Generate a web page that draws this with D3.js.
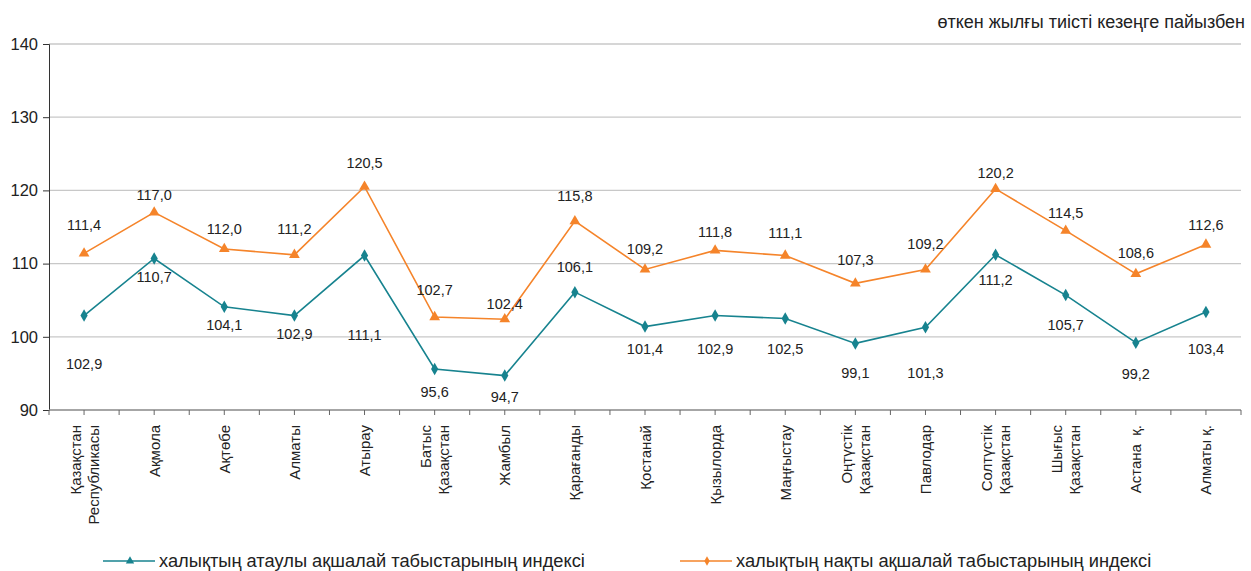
<!DOCTYPE html>
<html><head><meta charset="utf-8">
<script src="https://cdn.jsdelivr.net/npm/d3@7"></script>
<style>body{margin:0;background:#fff;} text{font-family:"Liberation Sans",Arial,sans-serif;fill:#222;}</style>
</head><body><svg id="c" width="1251" height="571"></svg>
<script>
const categories = [
  ["Қазақстан","Республикасы"],["Ақмола"],["Ақтөбе"],["Алматы"],["Атырау"],
  ["Батыс","Қазақстан"],["Жамбыл"],["Қарағанды"],["Қостанай"],["Қызылорда"],
  ["Маңғыстау"],["Оңтүстік","Қазақстан"],["Павлодар"],["Солтүстік","Қазақстан"],
  ["Шығыс","Қазақстан"],["Астана  қ."],["Алматы қ."]
];
const nominalIndex = [102.9,110.7,104.1,102.9,111.1,95.6,94.7,106.1,101.4,102.9,102.5,99.1,101.3,111.2,105.7,99.2,103.4];
const realIndex    = [111.4,117.0,112.0,111.2,120.5,102.7,102.4,115.8,109.2,111.8,111.1,107.3,109.2,120.2,114.5,108.6,112.6];
const yTicks = [90,100,110,120,130,140];
const seriesNames = ["халықтың атаулы ақшалай табыстарының индексі","халықтың нақты ақшалай табыстарының индексі"];
const unitNote = "өткен жылғы тиісті кезеңге пайызбен";
// label vertical offsets (px) as placed in the original
const nominalLabelDy = [48,18,18,18,79,23,21,-25,22,33,30,30,46,25,30,31,37];
const realLabelDy    = [-28,-17,-20,-26,-24,-27,-15,-25,-21,-18,-23,-23,-26,-16,-18,-21,-20];

const teal = "#17838f", orange = "#f5842a";
const svg = d3.select("#c");
const L = 49, R = 1241, T = 44, B = 410;
const x = d3.scaleBand().domain(d3.range(categories.length)).range([L,R]);
const y = d3.scaleLinear().domain([90,140]).range([B,T]);
const fmt = v => d3.format(".1f")(v).replace(".", ",");

// gridlines
svg.append("g").selectAll("line").data(yTicks.filter(t=>t>90)).join("line")
  .attr("x1",L).attr("x2",R).attr("y1",d=>y(d)).attr("y2",d=>y(d))
  .attr("stroke","#c8c8c8").attr("stroke-width",1.3);

// y axis
const ya = svg.append("g").attr("transform",`translate(${L},0)`)
  .call(d3.axisLeft(y).tickValues(yTicks).tickSize(6).tickPadding(5).tickFormat(d3.format("d")));
ya.select(".domain").attr("stroke","#333");
ya.selectAll(".tick line").attr("stroke","#333");
ya.selectAll("text").attr("font-size",16.5).style("fill","#222").attr("font-family","Liberation Sans, Arial");

// x axis line and ticks (boundaries + centers)
svg.append("line").attr("x1",L).attr("x2",R).attr("y1",B).attr("y2",B).attr("stroke","#888").attr("stroke-width",1.5);
const tickPos = [];
for (let i=0;i<=categories.length;i++){ tickPos.push(L + i*x.step()); if(i<categories.length) tickPos.push(x(i)+x.bandwidth()/2); }
svg.append("g").selectAll("line").data(tickPos).join("line")
  .attr("x1",d=>d).attr("x2",d=>d).attr("y1",B).attr("y2",B+5).attr("stroke","#666");

// category labels
const cg = svg.append("g");
categories.forEach((lines,i)=>{
  const cx = x(i)+x.bandwidth()/2;
  const n = lines.length;
  lines.forEach((s,j)=>{
    const off = (j-(n-1)/2)*18;
    cg.append("text").attr("transform",`translate(${cx+off+5.5},425) rotate(-90)`)
      .attr("text-anchor","end").attr("font-size",15).style("white-space","pre").text(s);
  });
});

// lines
const line = d3.line().x((d,i)=>x(i)+x.bandwidth()/2).y(d=>y(d));
svg.append("path").datum(realIndex).attr("d",line).attr("fill","none").attr("stroke",orange).attr("stroke-width",1.6);
svg.append("path").datum(nominalIndex).attr("d",line).attr("fill","none").attr("stroke",teal).attr("stroke-width",1.6);

const tri = d3.symbol().type(d3.symbolTriangle).size(50);
const dia = d3.symbol().type(d3.symbolDiamond).size(45);
svg.append("g").selectAll("path").data(realIndex).join("path")
  .attr("d",tri).attr("fill",orange)
  .attr("transform",(d,i)=>`translate(${x(i)+x.bandwidth()/2},${y(d)})`);
svg.append("g").selectAll("path").data(nominalIndex).join("path")
  .attr("d",dia).attr("fill",teal)
  .attr("transform",(d,i)=>`translate(${x(i)+x.bandwidth()/2},${y(d)})`);

// data labels
svg.append("g").selectAll("text").data(realIndex).join("text")
  .attr("x",(d,i)=>x(i)+x.bandwidth()/2).attr("y",(d,i)=>y(d)+realLabelDy[i])
  .attr("dy","0.35em").attr("text-anchor","middle").attr("font-size",14.5).text(fmt);
svg.append("g").selectAll("text").data(nominalIndex).join("text")
  .attr("x",(d,i)=>x(i)+x.bandwidth()/2).attr("y",(d,i)=>y(d)+nominalLabelDy[i])
  .attr("dy","0.35em").attr("text-anchor","middle").attr("font-size",14.5).text(fmt);

// unit note
svg.append("text").attr("x",1245).attr("y",28).attr("text-anchor","end").attr("font-size",18).text(unitNote);

// legend (markers as in original: swapped)
const lg = svg.append("g");
const leg = [{x0:103,c:teal,sym:d3.symbol().type(d3.symbolTriangle).size(30),t:seriesNames[0]},
             {x0:680,c:orange,sym:d3.symbol().type(d3.symbolDiamond).size(25),t:seriesNames[1]}];
leg.forEach(l=>{
  lg.append("line").attr("x1",l.x0).attr("x2",l.x0+52).attr("y1",561).attr("y2",561).attr("stroke",l.c).attr("stroke-width",1.3);
  lg.append("path").attr("d",l.sym).attr("fill",l.c).attr("transform",`translate(${l.x0+27},561)`);
  lg.append("text").attr("x",l.x0+56).attr("y",561).attr("dy","0.35em").attr("font-size",18.3).text(l.t);
});
</script></body></html>
